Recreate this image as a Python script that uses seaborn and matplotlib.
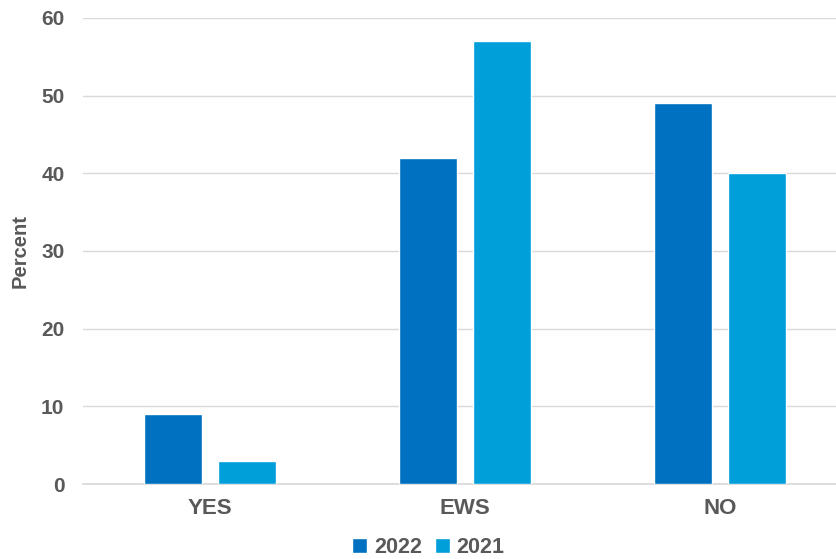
import pandas as pd
import matplotlib
matplotlib.use("Agg")
import matplotlib.pyplot as plt
import seaborn as sns

# Chart data
categories = ["YES", "EWS", "NO"]
years = ["2022", "2021"]
values_2022 = [9, 42, 49]
values_2021 = [3, 57, 40]

colors = {"2022": "#0070C0", "2021": "#009FDA"}
text_color = "#595959"


def main():
    df = pd.DataFrame({
        "Category": categories * 2,
        "Year": ["2022"] * len(categories) + ["2021"] * len(categories),
        "Percent": values_2022 + values_2021,
    })

    sns.set_theme(style="white")
    plt.rcParams["font.family"] = ["Liberation Sans", "DejaVu Sans"]

    fig = plt.figure(figsize=(8.37, 5.59), dpi=100)
    ax = fig.add_axes([0.0986, 0.134, 0.914, 0.834])

    sns.barplot(data=df, x="Category", y="Percent", hue="Year",
                hue_order=years, order=categories, palette=colors,
                saturation=1, width=0.58, gap=0.22, ax=ax, legend=True, zorder=3)

    ax.set_ylim(0, 60)
    ax.set_xlim(-0.5, 2.5)
    ax.set_yticks(range(0, 61, 10))
    ax.yaxis.grid(True, color="#D9D9D9", linewidth=1, zorder=0)
    ax.set_axisbelow(True)
    for side in ["top", "right", "left"]:
        ax.spines[side].set_visible(False)
    ax.spines["bottom"].set_color("#D9D9D9")

    ax.tick_params(axis="y", length=0, labelsize=15, labelcolor=text_color, pad=13)
    ax.tick_params(axis="x", length=0, labelsize=16, labelcolor=text_color, pad=10)
    for lbl in ax.get_xticklabels() + ax.get_yticklabels():
        lbl.set_fontweight("bold")

    ax.set_xlabel("")
    ax.set_ylabel("Percent", fontsize=14.5, fontweight="bold", color=text_color, labelpad=8)

    ax.legend(loc="center", bbox_to_anchor=(0.452, -0.137), ncol=2, frameon=False,
              handlelength=0.7, handleheight=0.7, handletextpad=0.3, columnspacing=0.6,
              borderpad=0.1, prop={"size": 15.5, "weight": "bold"}, labelcolor=text_color)

    fig.savefig("out.png", dpi=100)


if __name__ == "__main__":
    main()
